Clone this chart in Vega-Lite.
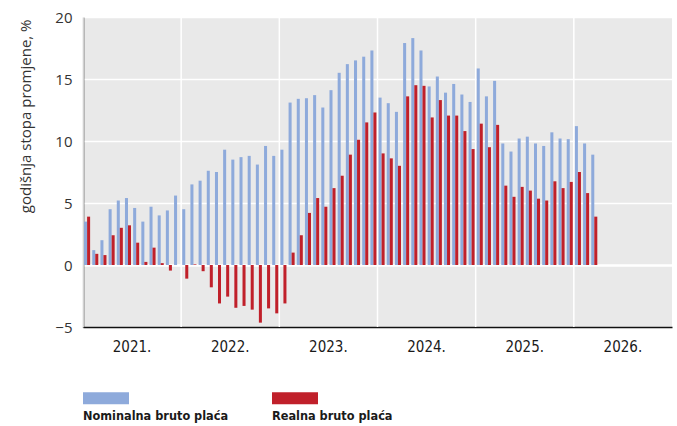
{
  "$schema": "https://vega.github.io/schema/vega-lite/v6.json",
  "width": 589,
  "height": 310,
  "autosize": {"type": "none"},
  "padding": {"left": 83, "top": 17, "right": 5, "bottom": 99},
  "config": {
    "view": {"fill": "#e9e9e9", "stroke": null},
    "font": "Open Sans"
  },
  "datasets": {
    "years": [
      {"year": "2021."}, {"year": "2022."}, {"year": "2023."},
      {"year": "2024."}, {"year": "2025."}, {"year": "2026."}
    ],
    "wages": [
      {"m": "2021-01", "s": "Nominalna bruto plaća", "v": 3.5}, {"m": "2021-01", "s": "Realna bruto plaća", "v": 3.9},
      {"m": "2021-02", "s": "Nominalna bruto plaća", "v": 1.2}, {"m": "2021-02", "s": "Realna bruto plaća", "v": 0.9},
      {"m": "2021-03", "s": "Nominalna bruto plaća", "v": 2.0}, {"m": "2021-03", "s": "Realna bruto plaća", "v": 0.8},
      {"m": "2021-04", "s": "Nominalna bruto plaća", "v": 4.5}, {"m": "2021-04", "s": "Realna bruto plaća", "v": 2.4},
      {"m": "2021-05", "s": "Nominalna bruto plaća", "v": 5.2}, {"m": "2021-05", "s": "Realna bruto plaća", "v": 3.0},
      {"m": "2021-06", "s": "Nominalna bruto plaća", "v": 5.4}, {"m": "2021-06", "s": "Realna bruto plaća", "v": 3.2},
      {"m": "2021-07", "s": "Nominalna bruto plaća", "v": 4.6}, {"m": "2021-07", "s": "Realna bruto plaća", "v": 1.8},
      {"m": "2021-08", "s": "Nominalna bruto plaća", "v": 3.5}, {"m": "2021-08", "s": "Realna bruto plaća", "v": 0.25},
      {"m": "2021-09", "s": "Nominalna bruto plaća", "v": 4.7}, {"m": "2021-09", "s": "Realna bruto plaća", "v": 1.4},
      {"m": "2021-10", "s": "Nominalna bruto plaća", "v": 4.0}, {"m": "2021-10", "s": "Realna bruto plaća", "v": 0.15},
      {"m": "2021-11", "s": "Nominalna bruto plaća", "v": 4.4}, {"m": "2021-11", "s": "Realna bruto plaća", "v": -0.45},
      {"m": "2021-12", "s": "Nominalna bruto plaća", "v": 5.6}, {"m": "2021-12", "s": "Realna bruto plaća", "v": 0.0},
      {"m": "2022-01", "s": "Nominalna bruto plaća", "v": 4.5}, {"m": "2022-01", "s": "Realna bruto plaća", "v": -1.1},
      {"m": "2022-02", "s": "Nominalna bruto plaća", "v": 6.5}, {"m": "2022-02", "s": "Realna bruto plaća", "v": 0.05},
      {"m": "2022-03", "s": "Nominalna bruto plaća", "v": 6.8}, {"m": "2022-03", "s": "Realna bruto plaća", "v": -0.5},
      {"m": "2022-04", "s": "Nominalna bruto plaća", "v": 7.6}, {"m": "2022-04", "s": "Realna bruto plaća", "v": -1.8},
      {"m": "2022-05", "s": "Nominalna bruto plaća", "v": 7.5}, {"m": "2022-05", "s": "Realna bruto plaća", "v": -3.1},
      {"m": "2022-06", "s": "Nominalna bruto plaća", "v": 9.3}, {"m": "2022-06", "s": "Realna bruto plaća", "v": -2.55},
      {"m": "2022-07", "s": "Nominalna bruto plaća", "v": 8.5}, {"m": "2022-07", "s": "Realna bruto plaća", "v": -3.45},
      {"m": "2022-08", "s": "Nominalna bruto plaća", "v": 8.7}, {"m": "2022-08", "s": "Realna bruto plaća", "v": -3.3},
      {"m": "2022-09", "s": "Nominalna bruto plaća", "v": 8.8}, {"m": "2022-09", "s": "Realna bruto plaća", "v": -3.6},
      {"m": "2022-10", "s": "Nominalna bruto plaća", "v": 8.1}, {"m": "2022-10", "s": "Realna bruto plaća", "v": -4.65},
      {"m": "2022-11", "s": "Nominalna bruto plaća", "v": 9.6}, {"m": "2022-11", "s": "Realna bruto plaća", "v": -3.5},
      {"m": "2022-12", "s": "Nominalna bruto plaća", "v": 8.8}, {"m": "2022-12", "s": "Realna bruto plaća", "v": -3.9},
      {"m": "2023-01", "s": "Nominalna bruto plaća", "v": 9.3}, {"m": "2023-01", "s": "Realna bruto plaća", "v": -3.1},
      {"m": "2023-02", "s": "Nominalna bruto plaća", "v": 13.1}, {"m": "2023-02", "s": "Realna bruto plaća", "v": 1.0},
      {"m": "2023-03", "s": "Nominalna bruto plaća", "v": 13.4}, {"m": "2023-03", "s": "Realna bruto plaća", "v": 2.4},
      {"m": "2023-04", "s": "Nominalna bruto plaća", "v": 13.45}, {"m": "2023-04", "s": "Realna bruto plaća", "v": 4.2},
      {"m": "2023-05", "s": "Nominalna bruto plaća", "v": 13.7}, {"m": "2023-05", "s": "Realna bruto plaća", "v": 5.4},
      {"m": "2023-06", "s": "Nominalna bruto plaća", "v": 12.7}, {"m": "2023-06", "s": "Realna bruto plaća", "v": 4.7},
      {"m": "2023-07", "s": "Nominalna bruto plaća", "v": 14.1}, {"m": "2023-07", "s": "Realna bruto plaća", "v": 6.2},
      {"m": "2023-08", "s": "Nominalna bruto plaća", "v": 15.5}, {"m": "2023-08", "s": "Realna bruto plaća", "v": 7.2},
      {"m": "2023-09", "s": "Nominalna bruto plaća", "v": 16.2}, {"m": "2023-09", "s": "Realna bruto plaća", "v": 8.9},
      {"m": "2023-10", "s": "Nominalna bruto plaća", "v": 16.5}, {"m": "2023-10", "s": "Realna bruto plaća", "v": 10.1},
      {"m": "2023-11", "s": "Nominalna bruto plaća", "v": 16.8}, {"m": "2023-11", "s": "Realna bruto plaća", "v": 11.5},
      {"m": "2023-12", "s": "Nominalna bruto plaća", "v": 17.3}, {"m": "2023-12", "s": "Realna bruto plaća", "v": 12.3},
      {"m": "2024-01", "s": "Nominalna bruto plaća", "v": 13.5}, {"m": "2024-01", "s": "Realna bruto plaća", "v": 9.0},
      {"m": "2024-02", "s": "Nominalna bruto plaća", "v": 13.05}, {"m": "2024-02", "s": "Realna bruto plaća", "v": 8.6},
      {"m": "2024-03", "s": "Nominalna bruto plaća", "v": 12.35}, {"m": "2024-03", "s": "Realna bruto plaća", "v": 8.0},
      {"m": "2024-04", "s": "Nominalna bruto plaća", "v": 17.9}, {"m": "2024-04", "s": "Realna bruto plaća", "v": 13.6},
      {"m": "2024-05", "s": "Nominalna bruto plaća", "v": 18.3}, {"m": "2024-05", "s": "Realna bruto plaća", "v": 14.5},
      {"m": "2024-06", "s": "Nominalna bruto plaća", "v": 17.3}, {"m": "2024-06", "s": "Realna bruto plaća", "v": 14.45},
      {"m": "2024-07", "s": "Nominalna bruto plaća", "v": 14.4}, {"m": "2024-07", "s": "Realna bruto plaća", "v": 11.9},
      {"m": "2024-08", "s": "Nominalna bruto plaća", "v": 15.2}, {"m": "2024-08", "s": "Realna bruto plaća", "v": 13.3},
      {"m": "2024-09", "s": "Nominalna bruto plaća", "v": 13.9}, {"m": "2024-09", "s": "Realna bruto plaća", "v": 12.05},
      {"m": "2024-10", "s": "Nominalna bruto plaća", "v": 14.6}, {"m": "2024-10", "s": "Realna bruto plaća", "v": 12.05},
      {"m": "2024-11", "s": "Nominalna bruto plaća", "v": 13.75}, {"m": "2024-11", "s": "Realna bruto plaća", "v": 10.8},
      {"m": "2024-12", "s": "Nominalna bruto plaća", "v": 13.15}, {"m": "2024-12", "s": "Realna bruto plaća", "v": 9.35},
      {"m": "2025-01", "s": "Nominalna bruto plaća", "v": 15.85}, {"m": "2025-01", "s": "Realna bruto plaća", "v": 11.4},
      {"m": "2025-02", "s": "Nominalna bruto plaća", "v": 13.6}, {"m": "2025-02", "s": "Realna bruto plaća", "v": 9.5},
      {"m": "2025-03", "s": "Nominalna bruto plaća", "v": 14.85}, {"m": "2025-03", "s": "Realna bruto plaća", "v": 11.3},
      {"m": "2025-04", "s": "Nominalna bruto plaća", "v": 9.8}, {"m": "2025-04", "s": "Realna bruto plaća", "v": 6.4},
      {"m": "2025-05", "s": "Nominalna bruto plaća", "v": 9.15}, {"m": "2025-05", "s": "Realna bruto plaća", "v": 5.5},
      {"m": "2025-06", "s": "Nominalna bruto plaća", "v": 10.2}, {"m": "2025-06", "s": "Realna bruto plaća", "v": 6.3},
      {"m": "2025-07", "s": "Nominalna bruto plaća", "v": 10.35}, {"m": "2025-07", "s": "Realna bruto plaća", "v": 6.0},
      {"m": "2025-08", "s": "Nominalna bruto plaća", "v": 9.8}, {"m": "2025-08", "s": "Realna bruto plaća", "v": 5.35},
      {"m": "2025-09", "s": "Nominalna bruto plaća", "v": 9.6}, {"m": "2025-09", "s": "Realna bruto plaća", "v": 5.2},
      {"m": "2025-10", "s": "Nominalna bruto plaća", "v": 10.7}, {"m": "2025-10", "s": "Realna bruto plaća", "v": 6.75},
      {"m": "2025-11", "s": "Nominalna bruto plaća", "v": 10.2}, {"m": "2025-11", "s": "Realna bruto plaća", "v": 6.2},
      {"m": "2025-12", "s": "Nominalna bruto plaća", "v": 10.15}, {"m": "2025-12", "s": "Realna bruto plaća", "v": 6.7},
      {"m": "2026-01", "s": "Nominalna bruto plaća", "v": 11.2}, {"m": "2026-01", "s": "Realna bruto plaća", "v": 7.5},
      {"m": "2026-02", "s": "Nominalna bruto plaća", "v": 9.8}, {"m": "2026-02", "s": "Realna bruto plaća", "v": 5.8},
      {"m": "2026-03", "s": "Nominalna bruto plaća", "v": 8.9}, {"m": "2026-03", "s": "Realna bruto plaća", "v": 3.9}
    ]
  },
  "layer": [
    {
      "data": {"name": "years"},
      "mark": {"type": "rule", "color": "#ffffff", "strokeWidth": 1.5},
      "encoding": {
        "x": {
          "field": "year",
          "type": "ordinal",
          "bandPosition": 0,
          "scale": {"paddingInner": 0, "paddingOuter": 0},
          "axis": {
            "title": null,
            "ticks": false,
            "grid": false,
            "domain": true,
            "domainColor": "#111111",
            "domainWidth": 1.3,
            "labelAngle": 0,
            "labelPadding": 12,
            "labelFont": "DejaVu Sans Condensed, sans-serif",
            "labelFontSize": 15,
            "labelColor": "#1a1a1a"
          }
        }
      }
    },
    {
      "data": {"name": "wages"},
      "mark": {"type": "bar"},
      "encoding": {
        "x": {
          "field": "m",
          "type": "ordinal",
          "axis": null,
          "scale": {
            "domain": ["2021-01","2021-02","2021-03","2021-04","2021-05","2021-06","2021-07","2021-08","2021-09","2021-10","2021-11","2021-12",
                       "2022-01","2022-02","2022-03","2022-04","2022-05","2022-06","2022-07","2022-08","2022-09","2022-10","2022-11","2022-12",
                       "2023-01","2023-02","2023-03","2023-04","2023-05","2023-06","2023-07","2023-08","2023-09","2023-10","2023-11","2023-12",
                       "2024-01","2024-02","2024-03","2024-04","2024-05","2024-06","2024-07","2024-08","2024-09","2024-10","2024-11","2024-12",
                       "2025-01","2025-02","2025-03","2025-04","2025-05","2025-06","2025-07","2025-08","2025-09","2025-10","2025-11","2025-12",
                       "2026-01","2026-02","2026-03","2026-04","2026-05","2026-06","2026-07","2026-08","2026-09","2026-10","2026-11","2026-12"],
            "paddingInner": 0.26,
            "paddingOuter": 0.13
          }
        },
        "xOffset": {"field": "s", "type": "nominal", "scale": {"paddingInner": 0, "paddingOuter": 0}},
        "y": {
          "field": "v",
          "type": "quantitative",
          "scale": {"domain": [-5, 20], "nice": false, "zero": false},
          "axis": {
            "title": "godišnja stopa promjene, %",
            "titleFont": "Open Sans",
            "titleFontSize": 15,
            "titleFontWeight": "normal",
            "titleColor": "#333333",
            "titleAngle": -90,
            "titleAlign": "right",
            "titleBaseline": "middle",
            "titleX": -58,
            "titleY": 2,
            "values": [-5, 0, 5, 10, 15, 20],
            "labelExpr": "datum.value < 0 ? '−' + abs(datum.value) : datum.label",
            "labelFont": "Open Sans",
            "labelFontSize": 15,
            "labelColor": "#333333",
            "labelPadding": 11,
            "ticks": false,
            "domain": true,
            "domainColor": "#444444",
            "domainWidth": 1.6,
            "grid": true,
            "gridColor": "#ffffff",
            "gridWidth": {"condition": {"test": "datum.value === 0", "value": 2.5}, "value": 1.5}
          }
        },
        "color": {
          "field": "s",
          "type": "nominal",
          "scale": {"domain": ["Nominalna bruto plaća", "Realna bruto plaća"], "range": ["#8eaadb", "#c0202a"]},
          "legend": {
            "title": null,
            "orient": "none",
            "legendX": 0,
            "legendY": 358,
            "direction": "horizontal",
            "columns": 2,
            "padding": 0,
            "symbolType": "M-1,-0.26L1,-0.26L1,0.26L-1,0.26Z",
            "symbolSize": 2116,
            "symbolStrokeWidth": 0,
            "symbolOpacity": 1,
            "labelOffset": -46,
            "labelFont": "DejaVu Sans Condensed, sans-serif",
            "labelFontSize": 12.6,
            "labelFontWeight": "bold",
            "labelColor": "#1a1a1a",
            "labelLimit": 300,
            "columnPadding": 43,
            "encode": {"labels": {"update": {"dy": {"value": 18}}}}
          }
        }
      }
    }
  ],
  "resolve": {"scale": {"x": "independent"}, "axis": {"x": "independent"}}
}
